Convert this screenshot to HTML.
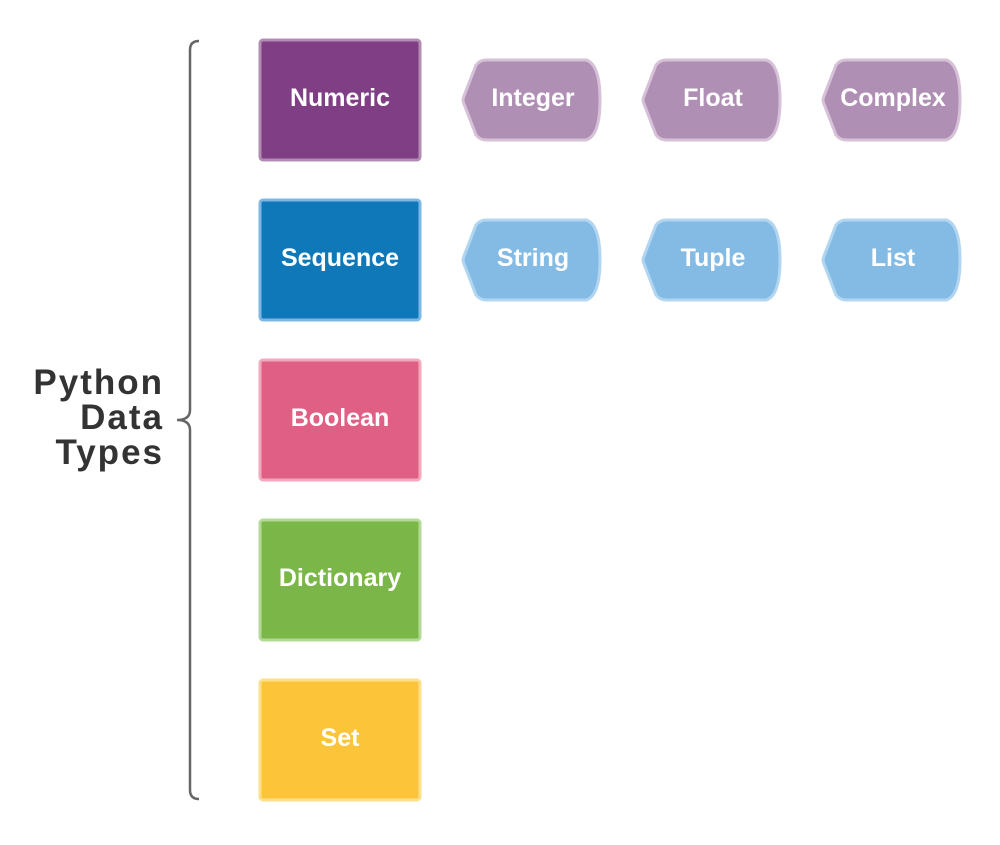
<!DOCTYPE html>
<html><head><style>
body{margin:0;background:#fff;width:1000px;height:840px;overflow:hidden}
</style></head><body>
<svg width="1000" height="840" xmlns="http://www.w3.org/2000/svg" font-family="Liberation Sans, sans-serif" font-weight="bold">
<path d="M199,41 Q190,41 190,50 V410 Q190,420 177,420 Q190,420 190,430 V790 Q190,799 199,799" fill="none" stroke="#666" stroke-width="2.5"/>
<g font-size="35" fill="#333" text-anchor="end" letter-spacing="2">
<text x="164" y="394">Python</text>
<text x="164" y="429">Data</text>
<text x="164" y="464">Types</text>
</g>
<g stroke-width="3">
<rect x="260" y="40" width="160" height="120" rx="3" fill="#803f85" stroke="#b28cb3"/>
<rect x="260" y="200" width="160" height="120" rx="3" fill="#0e78b8" stroke="#7db7e4"/>
<rect x="260" y="360" width="160" height="120" rx="3" fill="#e05f84" stroke="#f2a9bd"/>
<rect x="260" y="520" width="160" height="120" rx="3" fill="#7ab648" stroke="#b4d996"/>
<rect x="260" y="680" width="160" height="120" rx="3" fill="#fcc438" stroke="#fde08c"/>
</g>
<g font-size="25" fill="#fff" text-anchor="middle">
<text x="340" y="106">Numeric</text>
<text x="340" y="266">Sequence</text>
<text x="340" y="426">Boolean</text>
<text x="340" y="586">Dictionary</text>
<text x="340" y="746">Set</text>
</g>
<defs>
<path id="tag" d="M486,60 H586 Q600,64 600,100 Q600,136 586,140 H486 Q480,140 476,135 L464,104 Q462,100 464,96 L476,65 Q480,60 486,60 Z"/>
</defs>
<g stroke-width="3">
<use href="#tag" fill="#b08fb4" stroke="#d6c1d8"/>
<use href="#tag" x="180" fill="#b08fb4" stroke="#d6c1d8"/>
<use href="#tag" x="360" fill="#b08fb4" stroke="#d6c1d8"/>
<use href="#tag" y="160" fill="#84bbe5" stroke="#b2d5f0"/>
<use href="#tag" x="180" y="160" fill="#84bbe5" stroke="#b2d5f0"/>
<use href="#tag" x="360" y="160" fill="#84bbe5" stroke="#b2d5f0"/>
</g>
<g font-size="25" fill="#fff" text-anchor="middle">
<text x="533" y="106">Integer</text>
<text x="713" y="106">Float</text>
<text x="893" y="106">Complex</text>
<text x="533" y="266">String</text>
<text x="713" y="266">Tuple</text>
<text x="893" y="266">List</text>
</g>
</svg>
</body></html>
